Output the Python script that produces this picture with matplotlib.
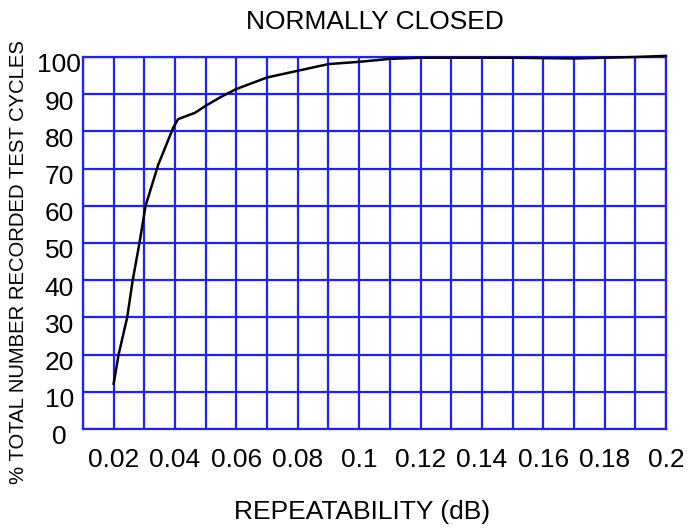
import matplotlib
matplotlib.use('Agg')
from matplotlib import pyplot as plt
from matplotlib.transforms import ScaledTranslation

repeatability = [0.02, 0.0216, 0.0244, 0.0262, 0.0284, 0.0304, 0.0345, 0.0394, 0.041,
                 0.0465, 0.05, 0.055, 0.06, 0.07, 0.08, 0.09, 0.1, 0.11, 0.12,
                 0.13, 0.14, 0.15, 0.16, 0.17, 0.18, 0.19, 0.2]
percent_cycles = [12.2, 20, 30, 40, 50, 60, 71, 81, 83.3,
                  85, 86.9, 89.3, 91.4, 94.5, 96.3, 98.1, 98.7, 99.5, 99.8,
                  99.8, 99.8, 99.8, 99.7, 99.6, 99.8, 100.0, 100.3]

x_ticks = [0.02, 0.04, 0.06, 0.08, 0.1, 0.12, 0.14, 0.16, 0.18, 0.2]
x_labels = ['0.02', '0.04', '0.06', '0.08', '0.1', '0.12', '0.14', '0.16', '0.18', '0.2']
x_grid = [round(0.01 * i, 2) for i in range(1, 21)]
y_ticks = list(range(0, 101, 10))

plt.rcParams['font.family'] = ['Liberation Sans', 'DejaVu Sans']
grid_blue = '#1f1fff'

fig = plt.figure(figsize=(6.88, 5.29), dpi=100)
ax = fig.add_axes([83 / 688, 1 - 429 / 529, 583 / 688, 372 / 529])

ax.plot(repeatability, percent_cycles, c='black', lw=1.8, clip_on=False, zorder=3)

ax.set_xlim(0.01, 0.2)
ax.set_ylim(0, 100)
ax.set_xticks(x_ticks)
ax.set_xticklabels(x_labels)
ax.set_xticks(x_grid, minor=True)
ax.set_yticks(y_ticks)
ax.grid(True, which='both', color=grid_blue, lw=1.6)
ax.tick_params(which='both', length=0, labelsize=19)
ax.tick_params(axis='x', pad=14)
ax.tick_params(axis='y', pad=17)
for s in ax.spines.values():
    s.set_color(grid_blue)
    s.set_linewidth(1.6)

offset = ScaledTranslation(0, -6 / 100, fig.dpi_scale_trans)
for lbl in ax.get_yticklabels():
    lbl.set_ha('center')
    lbl.set_transform(lbl.get_transform() + offset)

ax.set_title("NORMALLY CLOSED", fontsize=19, pad=20)
fig.text(362 / 688, 1 - 512 / 529, "REPEATABILITY (dB)", fontsize=19, ha='center', va='center')
fig.text(19 / 688, 1 - 262 / 529, "% TOTAL NUMBER RECORDED TEST CYCLES", fontsize=14.6,
         rotation=90, ha='center', va='center')

fig.savefig('out.png', dpi=100)
